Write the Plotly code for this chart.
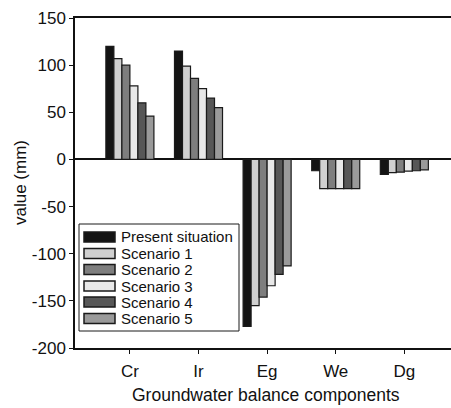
import plotly.graph_objects as go

categories = ["Cr", "Ir", "Eg", "We", "Dg"]
series_names = ["Present situation", "Scenario 1", "Scenario 2", "Scenario 3", "Scenario 4", "Scenario 5"]
present = [120, 115, -177, -12, -16]
scenario1 = [107, 99, -155, -31, -14]
scenario2 = [100, 86, -146, -31, -13.5]
scenario3 = [78, 75, -134, -31, -12.5]
scenario4 = [60, 65, -122, -31, -12]
scenario5 = [46, 55, -113, -31, -11]
series_values = [present, scenario1, scenario2, scenario3, scenario4, scenario5]
colors = ["#141414", "#d0d0d0", "#7e7e7e", "#e8e8e8", "#575757", "#9a9a9a"]
y_ticks = [150, 100, 50, 0, -50, -100, -150, -200]
y_tick_labels = ["150", "100", "50", "0", "-50", "-100", "-150", "-200"]

W, H = 451, 408
L, R, T, B = 75, 0, 18, 60
pw, ph = W - L - R, H - T - B

FONT = "Liberation Sans, Arial, sans-serif"

fig = go.Figure()
for name, vals, col in zip(series_names, series_values, colors):
    fig.add_trace(go.Bar(
        x=categories, y=vals, name=name,
        marker=dict(color=col, line=dict(color="#1a1a1a", width=1.2)),
        showlegend=False,
    ))

def px2paper(x, y):
    return (x - L) / pw, (H - B - y) / ph

shapes = []
annotations = []
x0, y0 = px2paper(79, 224)
x1, y1 = px2paper(239, 331)
shapes.append(dict(type="rect", xref="paper", yref="paper", x0=x0, y0=y1, x1=x1, y1=y0,
                   line=dict(color="#1a1a1a", width=1), fillcolor="white", layer="above"))
row_centers = [237, 253.5, 269.5, 286, 302, 318.5]
for name, col, yc in zip(series_names, colors, row_centers):
    sx0, sy0 = px2paper(84, yc - 5)
    sx1, sy1 = px2paper(115, yc + 5)
    shapes.append(dict(type="rect", xref="paper", yref="paper", x0=sx0, y0=sy1, x1=sx1, y1=sy0,
                       line=dict(color="#1a1a1a", width=1.5), fillcolor=col, layer="above"))
    tx, ty = px2paper(119, yc)
    annotations.append(dict(text=name, xref="paper", yref="paper", x=tx, y=ty,
                            xanchor="left", yanchor="middle", showarrow=False,
                            font=dict(family=FONT, size=15, color="#111")))

ax, ay = px2paper(20, 183)
annotations.append(dict(text="value (mm)", xref="paper", yref="paper", x=ax, y=ay,
                        xanchor="center", yanchor="middle", textangle=-90, showarrow=False,
                        font=dict(family=FONT, size=17, color="#111")))
bx, by = px2paper(266, 395)
annotations.append(dict(text="Groundwater balance components", xref="paper", yref="paper", x=bx, y=by,
                        xanchor="center", yanchor="middle", showarrow=False,
                        font=dict(family=FONT, size=17.5, color="#111")))

fig.update_layout(
    width=W, height=H,
    margin=dict(l=L, r=R, t=T, b=B, pad=0),
    paper_bgcolor="white", plot_bgcolor="white",
    barmode="group", bargap=0.30, bargroupgap=0,
    font=dict(family=FONT, size=17, color="#111"),
    shapes=shapes, annotations=annotations,
    xaxis=dict(
        range=[-0.8, 4.68], showline=True, linecolor="#111", linewidth=1.5, mirror=True,
        ticks="outside", ticklen=4, tickcolor="#111", showgrid=False,
        tickfont=dict(size=17), ticklabelstandoff=3,
    ),
    yaxis=dict(
        range=[-200, 150], tickvals=y_ticks, ticktext=y_tick_labels,
        showline=True, linecolor="#111", linewidth=1.5,
        ticks="outside", ticklen=4, tickcolor="#111", showgrid=False,
        zeroline=True, zerolinecolor="#111", zerolinewidth=1.5,
        tickfont=dict(size=17),
    ),
)

fig.write_html("out.html")
